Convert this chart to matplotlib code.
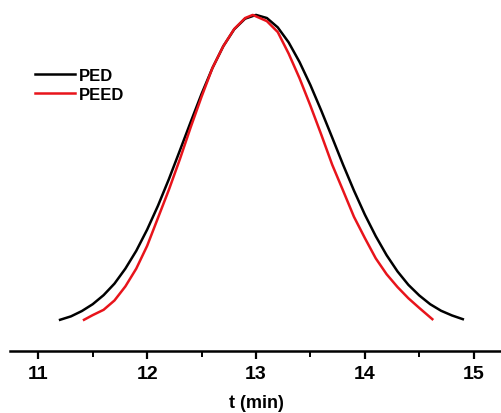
import matplotlib.pyplot as plt

plt.rcParams['font.family'] = ['Liberation Sans', 'DejaVu Sans']
plt.rcParams['font.weight'] = 'bold'

# elution curves (normalised intensity)
t_ped = [11.2, 11.3, 11.4, 11.5, 11.6, 11.7, 11.8, 11.9, 12.0, 12.1, 12.2, 12.3,
         12.4, 12.5, 12.6, 12.7, 12.8, 12.9, 13.0, 13.1, 13.2, 13.3, 13.4, 13.5,
         13.6, 13.7, 13.8, 13.9, 14.0, 14.1, 14.2, 14.3, 14.4, 14.5, 14.6, 14.7,
         14.8, 14.9]
i_ped = [0.023, 0.034, 0.051, 0.073, 0.102, 0.139, 0.187, 0.244, 0.312, 0.389,
         0.474, 0.565, 0.657, 0.747, 0.830, 0.900, 0.954, 0.988, 1.0, 0.990,
         0.960, 0.912, 0.849, 0.775, 0.693, 0.607, 0.520, 0.437, 0.360, 0.291,
         0.230, 0.178, 0.135, 0.101, 0.073, 0.052, 0.037, 0.025]

t_peed = [11.42, 11.5, 11.6, 11.7, 11.8, 11.9, 12.0, 12.1, 12.2, 12.3, 12.4,
          12.5, 12.6, 12.7, 12.8, 12.9, 12.97, 13.1, 13.2, 13.3, 13.4, 13.5,
          13.6, 13.7, 13.8, 13.9, 14.0, 14.1, 14.2, 14.3, 14.4, 14.5, 14.6, 14.62]
i_peed = [0.023, 0.038, 0.055, 0.085, 0.130, 0.187, 0.260, 0.350, 0.440, 0.537,
          0.640, 0.738, 0.830, 0.900, 0.955, 0.990, 1.0, 0.980, 0.945, 0.876,
          0.797, 0.709, 0.616, 0.520, 0.437, 0.353, 0.285, 0.220, 0.169, 0.128,
          0.092, 0.061, 0.031, 0.025]

xticks = [11, 12, 13, 14, 15]

fig = plt.figure(figsize=(5.02, 4.14), dpi=100)
ax = fig.add_axes([10 / 502, 62 / 414, 492 / 502, 352 / 414])

ax.plot(t_ped, i_ped, color='black', lw=1.8, label='PED')
ax.plot(t_peed, i_peed, color='#e8141b', lw=1.8, label='PEED')

ax.set_xlim(10.74, 15.26)
ax.set_ylim(-0.077, 1.051)
ax.set_xticks(xticks)
ax.set_xticks([11.5, 12.5, 13.5, 14.5], minor=True)
ax.set_yticks([])
for s in ['top', 'left', 'right']:
    ax.spines[s].set_visible(False)
ax.spines['bottom'].set_linewidth(1.8)
ax.tick_params(axis='x', which='major', direction='out', length=6, width=1.6,
               labelsize=14, pad=4)
ax.tick_params(axis='x', which='minor', direction='out', length=4, width=1.4)
for lab in ax.get_xticklabels():
    lab.set_fontweight('bold')
ax.set_xlabel('t (min)', fontsize=13, fontweight='bold', labelpad=9)

ax.legend(loc='upper left', bbox_to_anchor=(20 / 502, 1 - 54 / 414),
          bbox_transform=fig.transFigure, frameon=False, handlelength=2.4,
          handletextpad=0.25, labelspacing=0.25, prop={'size': 12, 'weight': 'bold'})

fig.savefig('out.png', dpi=100)
